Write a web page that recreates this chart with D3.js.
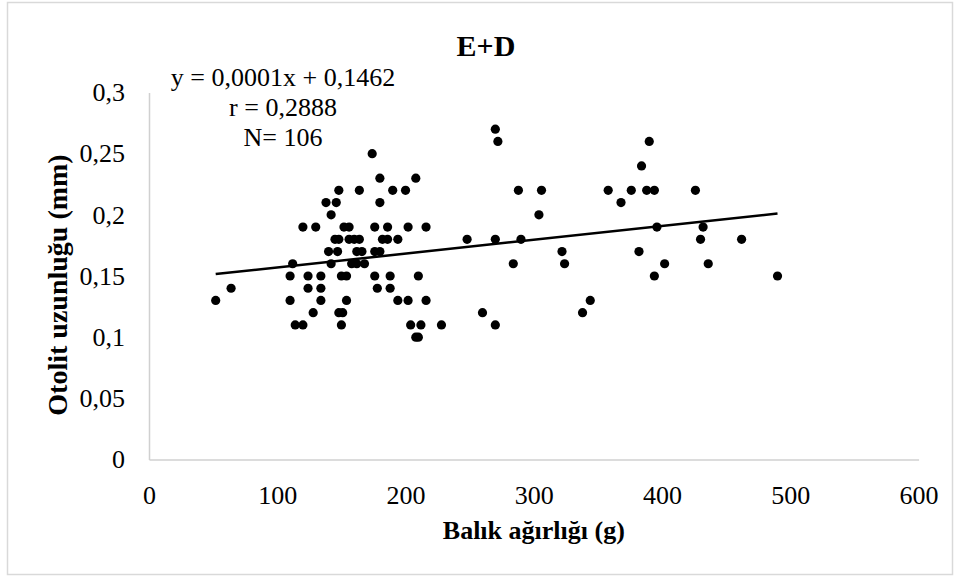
<!DOCTYPE html>
<html>
<head>
<meta charset="utf-8">
<script src="https://cdn.jsdelivr.net/npm/d3@7"></script>
<style>
  body { margin: 0; background: #fff; }
  svg { display: block; }
  text { font-family: "Liberation Serif", "Times New Roman", serif; fill: #000; }
</style>
</head>
<body>
<svg id="chart" width="960" height="578"></svg>
<script>
// Labels
const chartTitle = "E+D";
const xTitle = "Balık ağırlığı (g)";
const yTitle = "Otolit uzunluğu (mm)";
const statLines = ["y = 0,0001x + 0,1462", "r = 0,2888", "N= 106"];

// Fish weight (g) and otolith length (mm), one entry per fish
const weightG = [
  270,
  272, 390,
  174,
  384,
  180, 208,
  148, 164, 190, 200, 288, 306, 358, 376, 388, 394, 426,
  138, 146, 180, 368,
  142, 304,
  120, 130, 152, 156, 176, 186, 202, 216, 396, 432,
  145, 148, 156, 160, 164, 182, 186, 194, 248, 270, 290, 430, 462,
  140, 147, 162, 166, 176, 180, 322, 382,
  112, 142, 158, 162, 168, 284, 324, 402, 436,
  110, 124, 134, 150, 154, 176, 188, 210, 394, 490,
  64, 124, 134, 178, 188,
  52, 110, 134, 154, 194, 202, 216, 344,
  128, 148, 151, 260, 338,
  114, 120, 150, 204, 212, 228, 270,
  208, 210
];
const otolithMm = [
  0.27,
  0.26, 0.26,
  0.25,
  0.24,
  0.23, 0.23,
  0.22, 0.22, 0.22, 0.22, 0.22, 0.22, 0.22, 0.22, 0.22, 0.22, 0.22,
  0.21, 0.21, 0.21, 0.21,
  0.20, 0.20,
  0.19, 0.19, 0.19, 0.19, 0.19, 0.19, 0.19, 0.19, 0.19, 0.19,
  0.18, 0.18, 0.18, 0.18, 0.18, 0.18, 0.18, 0.18, 0.18, 0.18, 0.18, 0.18, 0.18,
  0.17, 0.17, 0.17, 0.17, 0.17, 0.17, 0.17, 0.17,
  0.16, 0.16, 0.16, 0.16, 0.16, 0.16, 0.16, 0.16, 0.16,
  0.15, 0.15, 0.15, 0.15, 0.15, 0.15, 0.15, 0.15, 0.15, 0.15,
  0.14, 0.14, 0.14, 0.14, 0.14,
  0.13, 0.13, 0.13, 0.13, 0.13, 0.13, 0.13, 0.13,
  0.12, 0.12, 0.12, 0.12, 0.12,
  0.11, 0.11, 0.11, 0.11, 0.11, 0.11, 0.11,
  0.10, 0.10
];

// Axis ticks
const xTicks = [0, 100, 200, 300, 400, 500, 600];
const yTicks = [0, 0.05, 0.1, 0.15, 0.2, 0.25, 0.3];

const points = weightG.map((w, i) => ({ w, l: otolithMm[i] }));

const svg = d3.select("#chart");
const W = 960, H = 578;
const plot = { left: 149, right: 918.6, top: 92.5, bottom: 459.5 };
const axisColor = "#d0d0d0";
const fontSize = 26;

const x = d3.scaleLinear().domain([0, 600]).range([plot.left, plot.right]);
const y = d3.scaleLinear().domain([0, 0.3]).range([plot.bottom, plot.top]);

const trLocale = d3.formatLocale({ decimal: ",", thousands: ".", grouping: [3], currency: ["", ""] });
const yFmt = v => v === 0 ? "0" : trLocale.format("~g")(v);

// Background and outer frame
svg.append("rect").attr("width", W).attr("height", H).attr("fill", "#fff");
svg.append("rect")
  .attr("x", 7.5).attr("y", 2.5).attr("width", 945).attr("height", 572)
  .attr("fill", "none").attr("stroke", "#d9d9d9").attr("stroke-width", 1.5);

// Axes
const yAxis = svg.append("g")
  .attr("transform", `translate(${plot.left},0)`)
  .call(d3.axisLeft(y).tickValues(yTicks).tickFormat(yFmt).tickSizeInner(0).tickSizeOuter(0).tickPadding(24));
const xAxis = svg.append("g")
  .attr("transform", `translate(0,${plot.bottom})`)
  .call(d3.axisBottom(x).tickValues(xTicks).tickFormat(d3.format("d")).tickSizeInner(0).tickSizeOuter(0).tickPadding(26));

[xAxis, yAxis].forEach(g => {
  g.select(".domain").attr("stroke", axisColor).attr("stroke-width", 1.5);
  g.selectAll("text")
    .attr("font-family", "'Liberation Serif', 'Times New Roman', serif")
    .attr("font-size", fontSize).attr("fill", "#000");
});

// Least-squares trend line through the points
const mx = d3.mean(points, d => d.w), my = d3.mean(points, d => d.l);
const sxy = d3.sum(points, d => (d.w - mx) * (d.l - my));
const sxx = d3.sum(points, d => (d.w - mx) ** 2);
const slope = sxy / sxx, intercept = my - slope * mx;
const [wMin, wMax] = d3.extent(points, d => d.w);
svg.append("line")
  .attr("x1", x(wMin)).attr("y1", y(intercept + slope * wMin))
  .attr("x2", x(wMax)).attr("y2", y(intercept + slope * wMax))
  .attr("stroke", "#000").attr("stroke-width", 2.5);

// Scatter points
svg.append("g").selectAll("circle")
  .data(points).join("circle")
  .attr("cx", d => x(d.w)).attr("cy", d => y(d.l))
  .attr("r", 4.6).attr("fill", "#000");

// Title
svg.append("text")
  .attr("x", 486).attr("y", 56).attr("text-anchor", "middle")
  .attr("font-size", 30).attr("font-weight", "bold")
  .text(chartTitle);

// Regression statistics
svg.append("g").selectAll("text")
  .data(statLines).join("text")
  .attr("x", 283).attr("y", (d, i) => 86 + i * 30)
  .attr("text-anchor", "middle").attr("font-size", fontSize)
  .text(d => d);

// Axis titles
svg.append("text")
  .attr("x", (plot.left + plot.right) / 2).attr("y", 539)
  .attr("text-anchor", "middle").attr("font-size", fontSize).attr("font-weight", "bold")
  .text(xTitle);
svg.append("text")
  .attr("transform", `translate(67,285) rotate(-90)`)
  .attr("text-anchor", "middle").attr("font-size", 28).attr("font-weight", "bold")
  .text(yTitle);
</script>
</body>
</html>
